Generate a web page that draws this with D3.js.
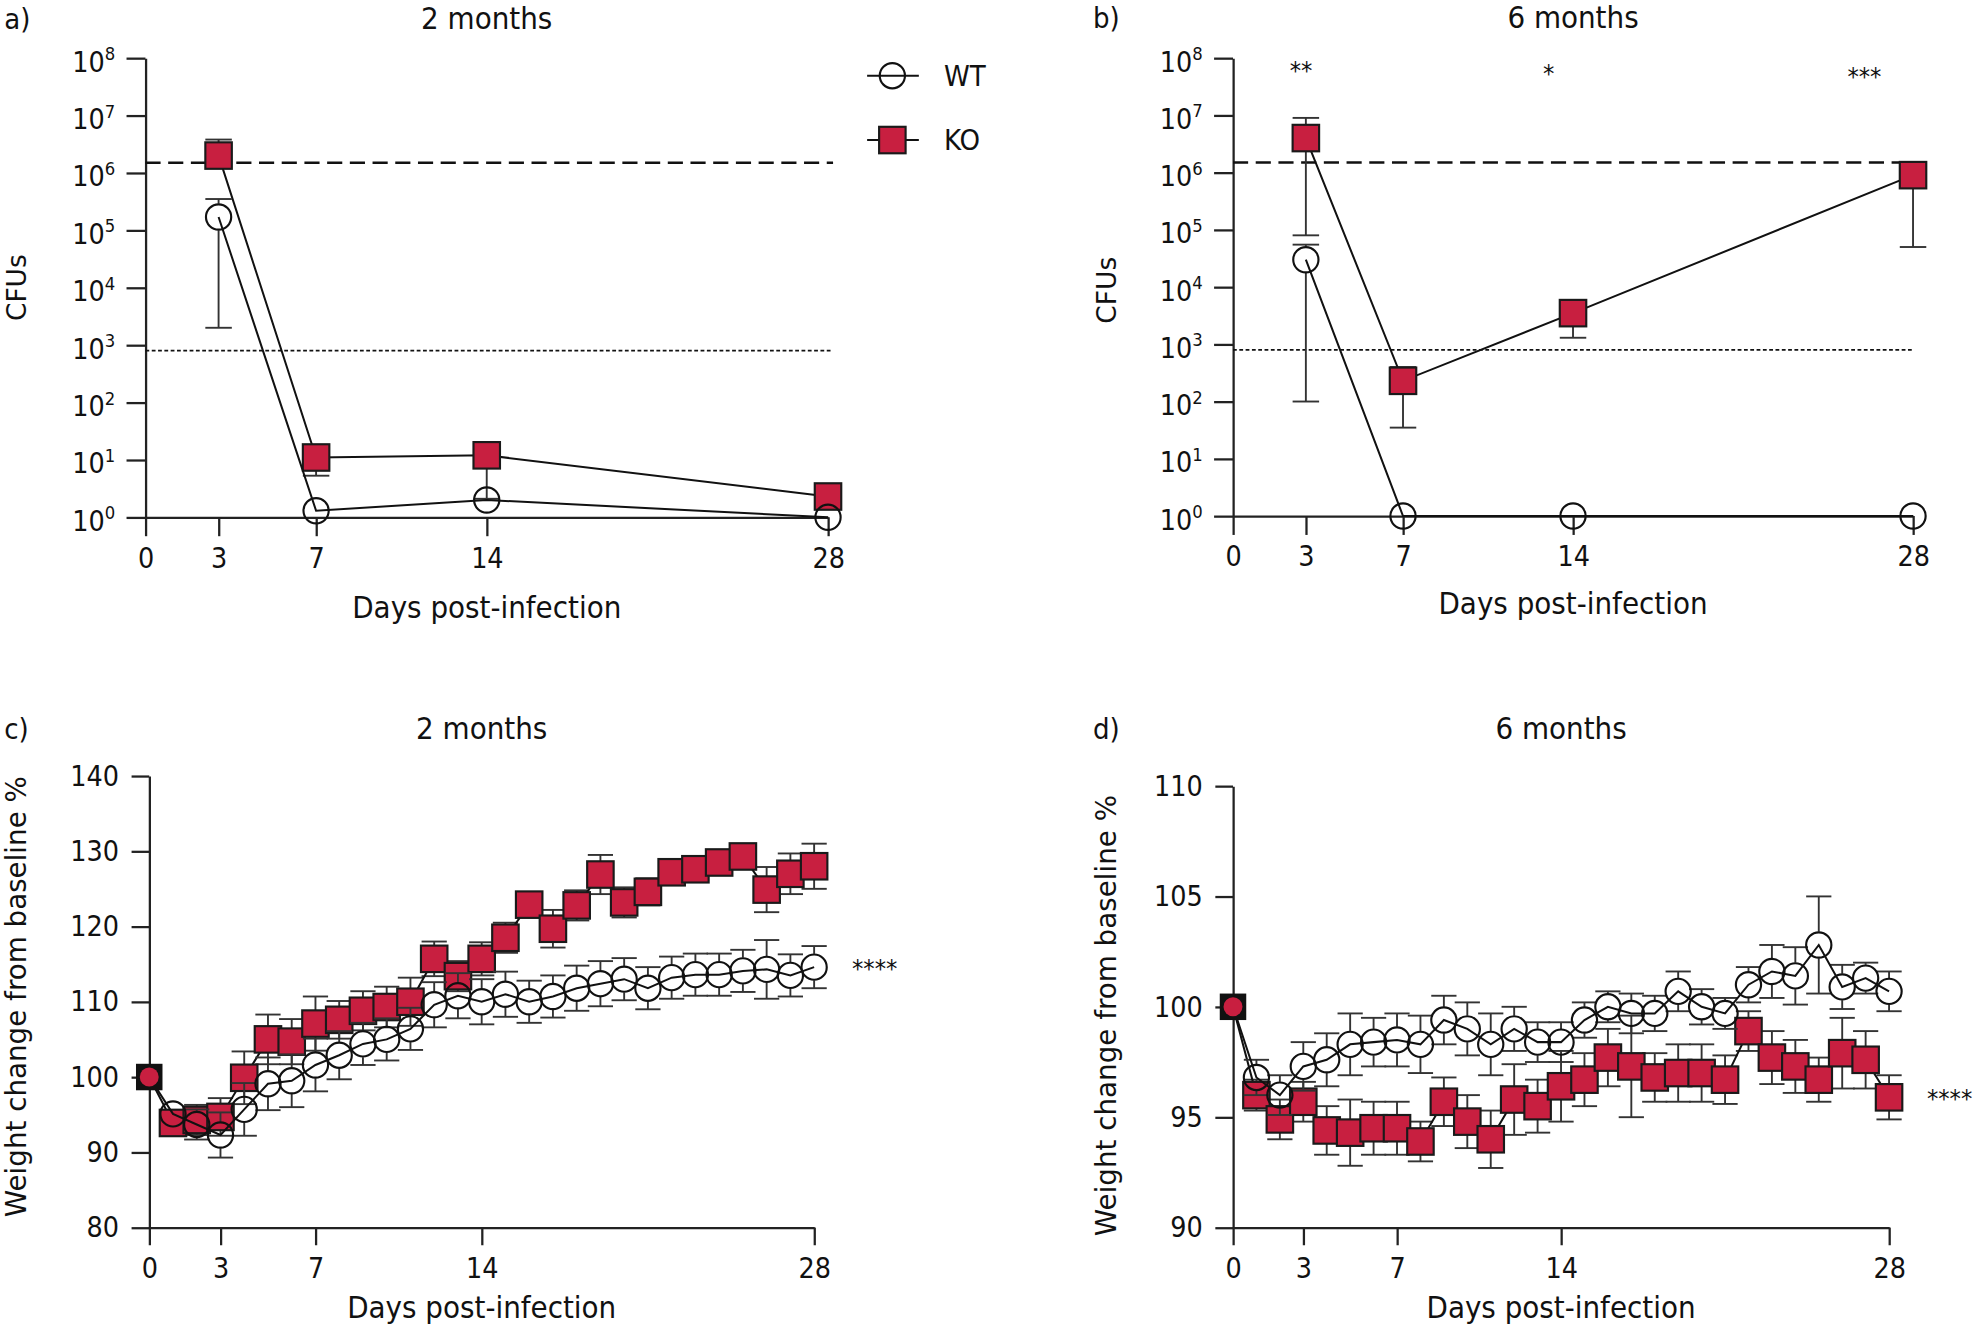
<!DOCTYPE html>
<html>
<head>
<meta charset="utf-8">
<script src="https://cdn.jsdelivr.net/npm/d3@7"></script>
<style>
  body { margin: 0; background: #fff; }
  text { fill: #111; }
</style>
</head>
<body>
<div id="chart"></div>
<script>
// ---- data ----
var cfuDays = [3, 7, 14, 28];
var dayTicks = [0, 3, 7, 14, 28];
var logTicks = [1, 10, 100, 1e3, 1e4, 1e5, 1e6, 1e7, 1e8];

// a) 2 months, CFUs
var wt2mCfu = [1.7e5, 1.3, 2, 1];
var wt2mLo  = [2000, 1.3, 2, 1];
var wt2mHi  = [3.5e5, 1.3, 2, 1];
var ko2mCfu = [2e6, 11, 12, 2.3];
var ko2mLo  = [2e6, 5.3, 2.1, 2.3];
var ko2mHi  = [3.8e6, 16, 18, 3.6];

// b) 6 months, CFUs
var wt6mCfu = [3e4, 1, 1, 1];
var wt6mLo  = [100, 1, 1, 1];
var wt6mHi  = [5.5e4, 1, 1, 1];
var ko6mCfu = [4e6, 230, 3500, 9e5];
var ko6mLo  = [8e4, 35, 1300, 5e4];
var ko6mHi  = [9e6, 400, 4500, 1.3e6];

var inoculumLine = 1.5e6;
var detectionLine = 800;
var cfuStars = [{day: 2.8, label: '**'}, {day: 13, label: '*'}, {day: 26, label: '***'}];

// c/d) weight change
var weightDays = [0, 1, 2, 3, 4, 5, 6, 7, 8, 9, 10, 11, 12, 13, 14, 15, 16, 17, 18, 19, 20, 21, 22, 23, 24, 25, 26, 27, 28];

var wt2mWeight = [100, 95.1, 93.7, 92.3, 95.7, 99.1, 99.5, 101.6, 102.9, 104.4, 105.0, 106.4, 109.6, 110.8, 110.0, 111.0, 110.0, 110.7, 111.8, 112.4, 113.0, 111.8, 113.2, 113.6, 113.6, 114.1, 114.3, 113.5, 114.6];
var wt2mErr    = [0, 1.5, 2, 3, 3.5, 3.5, 3.5, 3.5, 3.2, 2.8, 2.8, 2.8, 3, 3, 3, 3, 2.8, 2.8, 3, 3, 2.8, 2.8, 2.8, 2.8, 2.8, 2.8, 3.9, 2.8, 2.8];
var ko2mWeight = [100, 93.9, 94.3, 94.7, 99.9, 105.0, 104.7, 107.1, 107.6, 108.8, 109.3, 110.0, 115.7, 113.4, 115.7, 118.5, 122.9, 119.7, 122.8, 126.9, 123.2, 124.6, 127.2, 127.6, 128.5, 129.3, 124.9, 127.0, 128.0];
var ko2mErr    = [0, 1.5, 2, 2.5, 3.5, 3.3, 3, 3.6, 2.5, 2.6, 2.7, 3.2, 2.3, 2, 2.2, 2, 1.6, 2.5, 2, 2.6, 2, 1.8, 1.5, 1.5, 1.4, 1.3, 3, 2.7, 3];

var wt6mWeight = [100, 96.8, 96.0, 97.3, 97.6, 98.3, 98.4, 98.5, 98.3, 99.4, 99.0, 98.3, 99.0, 98.4, 98.4, 99.4, 100.0, 99.7, 99.7, 100.7, 100.0, 99.7, 101.0, 101.6, 101.4, 102.8, 100.9, 101.3, 100.7];
var wt6mErr    = [0, 0.8, 0.9, 1.1, 1.2, 1.4, 1.1, 1.2, 1.3, 1.1, 1.2, 1.4, 1.0, 0.9, 0.9, 0.8, 0.7, 0.9, 0.8, 0.9, 0.8, 0.7, 0.8, 1.2, 1.3, 2.2, 1.0, 0.7, 0.9];
var ko6mWeight = [100, 96.0, 94.9, 95.7, 94.4, 94.3, 94.5, 94.5, 93.9, 95.7, 94.8, 94.0, 95.8, 95.5, 96.4, 96.7, 97.7, 97.3, 96.8, 97.0, 97.0, 96.7, 98.9, 97.7, 97.3, 96.7, 97.9, 97.6, 95.9];
var ko6mErr    = [0, 0.7, 0.9, 0.9, 1.1, 1.5, 1.2, 1.2, 0.9, 1.1, 1.2, 1.3, 1.6, 1.2, 1.6, 1.2, 1.3, 2.3, 1.1, 1.3, 1.3, 1.1, 0.9, 1.2, 1.2, 1.0, 1.6, 1.3, 1.0];

var koColor = '#c81f40';
var narrow = '"Liberation Sans Narrow", "DejaVu Sans Condensed", "Roboto", sans-serif';
var wide = '"DejaVu Sans", "Verdana", sans-serif';
var half = 10.5; // half marker size

// whole picture is laid out in a 1568 x 1051 frame and scaled up
var W = 1568, H = 1051;
var svg = d3.select('#chart').append('svg')
  .attr('width', 1979)
  .attr('height', 1326)
  .attr('viewBox', '0 0 ' + W + ' ' + H);

svg.append('rect').attr('width', W).attr('height', H).attr('fill', '#fff');

function zip(xs, ys, lo, hi){
  return xs.map(function(d, i){
    return {x: d, y: ys[i], lo: lo ? lo[i] : ys[i], hi: hi ? hi[i] : ys[i]};
  });
}

function styleAxis(g){
  g.selectAll('path, line').attr('stroke', '#222').attr('stroke-width', 1.8);
  g.selectAll('text').attr('font-family', narrow).attr('font-size', 22.5).attr('fill', '#111');
}

function panelText(p){
  svg.append('text').attr('x', p.tagX).attr('y', p.titleY)
    .attr('font-family', narrow).attr('font-size', 23).text(p.tag);
  svg.append('text').attr('x', (p.x0 + p.x1) / 2).attr('y', p.titleY)
    .attr('text-anchor', 'middle').attr('font-family', narrow).attr('font-size', 24.5).text(p.title);
  svg.append('text').attr('x', (p.x0 + p.x1) / 2).attr('y', p.xLabelY)
    .attr('text-anchor', 'middle').attr('font-family', narrow).attr('font-size', 24.5).text('Days post-infection');
  svg.append('text')
    .attr('transform', 'translate(' + p.yLabelX + ',' + p.yLabelMid + ') rotate(-90)')
    .attr('text-anchor', 'middle').attr('font-family', wide).attr('font-size', p.yLabelSize)
    .text(p.yLabel);
}

// bars run from the marker edge outward, so open circles stay clean
function drawErrorBars(g, data, x, y, capW){
  var bars = g.append('g').attr('stroke', '#333').attr('stroke-width', 1.5);
  data.forEach(function(d){
    var cx = x(d.x), cy = y(d.y);
    [d.lo, d.hi].forEach(function(v){
      var vy = y(v);
      if (Math.abs(vy - cy) <= half) return;
      var edge = vy > cy ? cy + half : cy - half;
      bars.append('line').attr('x1', cx).attr('x2', cx).attr('y1', edge).attr('y2', vy);
      bars.append('line').attr('x1', cx - capW / 2).attr('x2', cx + capW / 2)
        .attr('y1', vy).attr('y2', vy);
    });
  });
}

function drawLine(g, data, x, y){
  g.append('path')
    .datum(data)
    .attr('fill', 'none')
    .attr('stroke', '#111')
    .attr('stroke-width', 1.6)
    .attr('d', d3.line().x(function(d){ return x(d.x); }).y(function(d){ return y(d.y); }));
}

function drawSquares(g, data, x, y){
  g.selectAll('.sq').data(data).enter().append('rect')
    .attr('x', function(d){ return x(d.x) - half; })
    .attr('y', function(d){ return y(d.y) - half; })
    .attr('width', half * 2).attr('height', half * 2)
    .attr('fill', koColor).attr('stroke', '#1a1a1a').attr('stroke-width', 1.7);
}

function drawCircles(g, data, x, y){
  g.selectAll('.ci').data(data).enter().append('circle')
    .attr('cx', function(d){ return x(d.x); })
    .attr('cy', function(d){ return y(d.y); })
    .attr('r', 10)
    .attr('fill', 'none').attr('stroke', '#111').attr('stroke-width', 1.7);
}

// ---- CFU panels ----
function drawCfuPanel(p){
  var x = d3.scaleLinear().domain([0, 28]).range([p.x0, p.x1]);
  var y = d3.scaleLog().domain([1, 1e8]).range([p.yBot, p.yTop]);
  var g = svg.append('g');

  var yAx = g.append('g').attr('transform', 'translate(' + p.x0 + ',0)')
    .call(d3.axisLeft(y).tickValues(logTicks).tickSize(15).tickSizeOuter(0).tickPadding(9));
  styleAxis(yAx);
  yAx.selectAll('.tick text').each(function(d){
    var t = d3.select(this);
    t.text('').attr('y', 3);
    t.append('tspan').text('10');
    t.append('tspan').attr('dy', -9).attr('font-size', 14.5).text(Math.round(Math.log10(d)));
  });
  var xAx = g.append('g').attr('transform', 'translate(0,' + p.yBot + ')')
    .call(d3.axisBottom(x).tickValues(dayTicks).tickSize(15).tickSizeOuter(0).tickPadding(9));
  styleAxis(xAx);

  g.append('line').attr('x1', p.x0).attr('x2', p.x1 + p.refExtra)
    .attr('y1', y(inoculumLine)).attr('y2', y(inoculumLine))
    .attr('stroke', '#111').attr('stroke-width', 2).attr('stroke-dasharray', '12,6');
  g.append('line').attr('x1', p.x0).attr('x2', p.x1 + p.refExtra)
    .attr('y1', y(detectionLine)).attr('y2', y(detectionLine))
    .attr('stroke', '#111').attr('stroke-width', 1.5).attr('stroke-dasharray', '3,2');

  var wt = zip(cfuDays, p.wt, p.wtLo, p.wtHi);
  var ko = zip(cfuDays, p.ko, p.koLo, p.koHi);
  drawErrorBars(g, ko, x, y, 21);
  drawLine(g, ko, x, y);
  drawSquares(g, ko, x, y);
  drawErrorBars(g, wt, x, y, 21);
  drawLine(g, wt, x, y);
  drawCircles(g, wt, x, y);

  if (p.stars){
    p.stars.forEach(function(s, i){
      g.append('text').attr('x', x(s.day)).attr('y', 63 + i * 2)
        .attr('text-anchor', 'middle').attr('font-family', narrow).attr('font-size', 20)
        .text(s.label);
    });
  }
  panelText(p);
}

drawCfuPanel({
  x0: 115, x1: 656, yTop: 46, yBot: 410, refExtra: 4,
  wt: wt2mCfu, wtLo: wt2mLo, wtHi: wt2mHi,
  ko: ko2mCfu, koLo: ko2mLo, koHi: ko2mHi,
  tag: 'a)', tagX: 3, title: '2 months', titleY: 23, xLabelY: 490,
  yLabel: 'CFUs', yLabelX: 20, yLabelMid: 228, yLabelSize: 21
});
drawCfuPanel({
  x0: 977, x1: 1516, yTop: 46, yBot: 409, refExtra: 0,
  wt: wt6mCfu, wtLo: wt6mLo, wtHi: wt6mHi,
  ko: ko6mCfu, koLo: ko6mLo, koHi: ko6mHi, stars: cfuStars,
  tag: 'b)', tagX: 866, title: '6 months', titleY: 22, xLabelY: 487,
  yLabel: 'CFUs', yLabelX: 884, yLabelMid: 230, yLabelSize: 21
});

// legend (panel a)
var leg = svg.append('g');
leg.append('line').attr('x1', 687).attr('x2', 728).attr('y1', 60).attr('y2', 60)
  .attr('stroke', '#111').attr('stroke-width', 1.6);
leg.append('circle').attr('cx', 707).attr('cy', 60).attr('r', 10)
  .attr('fill', 'none').attr('stroke', '#111').attr('stroke-width', 1.7);
leg.append('text').attr('x', 748).attr('y', 68).attr('font-family', narrow).attr('font-size', 23).text('WT');
leg.append('line').attr('x1', 687).attr('x2', 728).attr('y1', 111).attr('y2', 111)
  .attr('stroke', '#111').attr('stroke-width', 1.6);
leg.append('rect').attr('x', 707 - half).attr('y', 111 - half).attr('width', half * 2).attr('height', half * 2)
  .attr('fill', koColor).attr('stroke', '#1a1a1a').attr('stroke-width', 1.7);
leg.append('text').attr('x', 748).attr('y', 119).attr('font-family', narrow).attr('font-size', 23).text('KO');

// ---- weight panels ----
function drawWeightPanel(p){
  var x = d3.scaleLinear().domain([0, 28]).range([p.x0, p.x1]);
  var y = d3.scaleLinear().domain(p.yDomain).range([p.yBot, p.yTop]);
  var g = svg.append('g');

  var yAx = g.append('g').attr('transform', 'translate(' + p.x0 + ',0)')
    .call(d3.axisLeft(y).tickValues(p.yTicks).tickSize(14).tickSizeOuter(0).tickPadding(10));
  styleAxis(yAx);
  var xAx = g.append('g').attr('transform', 'translate(0,' + p.yBot + ')')
    .call(d3.axisBottom(x).tickValues(dayTicks).tickSize(14).tickSizeOuter(0).tickPadding(10));
  styleAxis(xAx);

  var wt = weightDays.map(function(d, i){
    return {x: d, y: p.wt[i], lo: p.wt[i] - p.wtErr[i], hi: p.wt[i] + p.wtErr[i]};
  });
  var ko = weightDays.map(function(d, i){
    return {x: d, y: p.ko[i], lo: p.ko[i] - p.koErr[i], hi: p.ko[i] + p.koErr[i]};
  });

  drawErrorBars(g, ko.slice(1), x, y, 20);
  drawLine(g, ko, x, y);
  drawSquares(g, ko.slice(1), x, y);
  drawErrorBars(g, wt.slice(1), x, y, 20);
  drawLine(g, wt, x, y);
  drawCircles(g, wt.slice(1), x, y);

  // day 0: both groups at baseline
  g.append('rect').attr('x', x(0) - half).attr('y', y(ko[0].y) - half)
    .attr('width', half * 2).attr('height', half * 2).attr('fill', '#111');
  g.append('circle').attr('cx', x(0)).attr('cy', y(wt[0].y)).attr('r', 7.5).attr('fill', koColor);

  g.append('text').attr('x', x(28) + 30).attr('y', y(p.starY) + 8)
    .attr('font-family', narrow).attr('font-size', 20).text('****');

  panelText(p);
}

drawWeightPanel({
  x0: 118, x1: 645, yTop: 615, yBot: 973, yDomain: [80, 140], yTicks: [80, 90, 100, 110, 120, 130, 140],
  wt: wt2mWeight, wtErr: wt2mErr, ko: ko2mWeight, koErr: ko2mErr, starY: 114.6,
  tag: 'c)', tagX: 3, title: '2 months', titleY: 586, xLabelY: 1045,
  yLabel: 'Weight change from baseline %', yLabelX: 20, yLabelMid: 790, yLabelSize: 22
});
drawWeightPanel({
  x0: 977, x1: 1497, yTop: 623, yBot: 973, yDomain: [90, 110], yTicks: [90, 95, 100, 105, 110],
  wt: wt6mWeight, wtErr: wt6mErr, ko: ko6mWeight, koErr: ko6mErr, starY: 95.9,
  tag: 'd)', tagX: 866, title: '6 months', titleY: 586, xLabelY: 1045,
  yLabel: 'Weight change from baseline %', yLabelX: 884, yLabelMid: 805, yLabelSize: 22
});
</script>
</body>
</html>
